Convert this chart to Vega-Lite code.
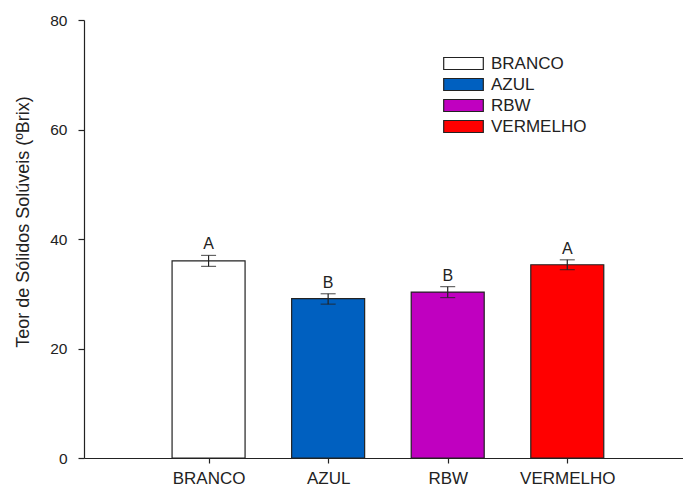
{
  "$schema": "https://vega.github.io/schema/vega-lite/v6.json",
  "autosize": {"type": "none"},
  "padding": {"left": 84, "top": 20, "right": 0, "bottom": 31},
  "width": 599,
  "height": 438,
  "background": "white",
  "config": {
    "view": {"stroke": null},
    "font": "Liberation Sans",
    "axis": {"grid": false, "domainColor": "#222", "tickColor": "#222", "labelColor": "#222", "titleColor": "#222", "labelFont": "Liberation Sans", "titleFont": "Liberation Sans", "titleFontWeight": "normal", "domainWidth": 1.2, "tickWidth": 1.2}
  },
  "data": {
    "values": [
      {"cat": "BRANCO", "pos": 1, "mean": 36.0, "lo": 35.0, "hi": 37.0, "letter": "A"},
      {"cat": "AZUL", "pos": 2, "mean": 29.1, "lo": 28.1, "hi": 30.0, "letter": "B"},
      {"cat": "RBW", "pos": 3, "mean": 30.3, "lo": 29.3, "hi": 31.3, "letter": "B"},
      {"cat": "VERMELHO", "pos": 4, "mean": 35.3, "lo": 34.4, "hi": 36.2, "letter": "A"}
    ]
  },
  "layer": [
    {
      "mark": {"type": "bar", "width": 73, "stroke": "#222", "strokeWidth": 1.2},
      "encoding": {
        "x": {"field": "pos", "type": "quantitative", "scale": {"domain": [0, 4.926], "nice": false, "zero": false},
          "axis": {"values": [1, 2, 3, 4], "title": null, "labelExpr": "['','BRANCO','AZUL','RBW','VERMELHO'][datum.value]", "labelFontSize": 17, "tickSize": 5, "labelPadding": 7, "labelFlush": false}},
        "y": {"field": "mean", "type": "quantitative", "scale": {"domain": [0, 80], "nice": false},
          "axis": {"values": [0, 20, 40, 60, 80], "title": "Teor de Sólidos Solúveis (ºBrix)", "titleFontSize": 18, "labelFontSize": 15.5, "tickSize": 6, "labelPadding": 11, "titleAngle": -90, "titleX": -61, "titleY": 201.5, "titleBaseline": "middle", "titleAlign": "center"}},
        "fill": {"field": "cat", "type": "nominal",
          "scale": {"domain": ["BRANCO", "AZUL", "RBW", "VERMELHO"], "range": ["#FFFFFF", "#0060C0", "#C000C0", "#FF0000"]},
          "legend": {"title": null, "orient": "none", "legendX": 371, "legendY": 35, "padding": 0,
            "symbolType": "M-3.3,-1L3.3,-1L3.3,1L-3.3,1Z", "symbolSize": 144, "symbolStrokeColor": "#222", "symbolStrokeWidth": 1.2, "symbolOpacity": 1,
            "labelFontSize": 17, "labelColor": "#222", "labelOffset": 19, "rowPadding": 3, "labelFont": "Liberation Sans"}}
      }
    },
    {
      "mark": {"type": "rule", "color": "#222", "strokeWidth": 1.2},
      "encoding": {
        "x": {"field": "pos", "type": "quantitative"},
        "y": {"field": "lo", "type": "quantitative"},
        "y2": {"field": "hi"}
      }
    },
    {
      "mark": {"type": "tick", "color": "#222", "size": 15, "thickness": 1.2, "orient": "horizontal"},
      "encoding": {
        "x": {"field": "pos", "type": "quantitative"},
        "y": {"field": "lo", "type": "quantitative"}
      }
    },
    {
      "mark": {"type": "tick", "color": "#222", "size": 15, "thickness": 1.2, "orient": "horizontal"},
      "encoding": {
        "x": {"field": "pos", "type": "quantitative"},
        "y": {"field": "hi", "type": "quantitative"}
      }
    },
    {
      "mark": {"type": "text", "baseline": "alphabetic", "dy": -6, "fontSize": 16, "color": "#222", "font": "Liberation Sans"},
      "encoding": {
        "x": {"field": "pos", "type": "quantitative"},
        "y": {"field": "hi", "type": "quantitative"},
        "text": {"field": "letter"}
      }
    }
  ]
}
